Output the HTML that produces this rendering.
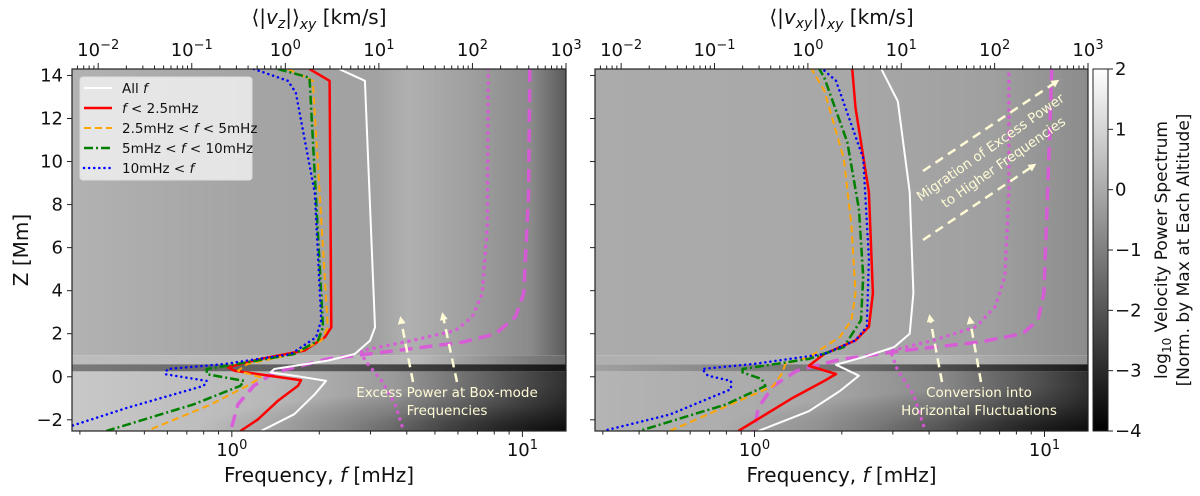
<!DOCTYPE html>
<html><head><meta charset="utf-8"><style>
html,body{margin:0;padding:0;background:#fff;}
svg{display:block;font-family:"DejaVu Sans","Liberation Sans",sans-serif;}
</style></head><body>
<svg id="fig" width="1200" height="496" viewBox="0 0 1200 496" xmlns="http://www.w3.org/2000/svg">
<defs>
<linearGradient id="lt" x1="0" x2="1" y1="0" y2="0">
<stop offset="0" stop-color="#b2b2b2"/><stop offset="0.35" stop-color="#a4a4a4"/><stop offset="0.62" stop-color="#a2a2a2"/><stop offset="0.68" stop-color="#b0b0b0"/><stop offset="0.8" stop-color="#a0a0a0"/><stop offset="0.93" stop-color="#8a8a8a"/><stop offset="1" stop-color="#5a5a5a"/></linearGradient>
<linearGradient id="lb" x1="0" x2="1" y1="0" y2="0">
<stop offset="0" stop-color="#c8c8c8"/><stop offset="0.4" stop-color="#b8b8b8"/><stop offset="0.65" stop-color="#9a9a9a"/><stop offset="0.85" stop-color="#606060"/><stop offset="1" stop-color="#303030"/></linearGradient>
<linearGradient id="lband" x1="0" x2="1" y1="0" y2="0">
<stop offset="0" stop-color="#7a7a7a"/><stop offset="0.5" stop-color="#5a5a5a"/><stop offset="1" stop-color="#151515"/></linearGradient>
<linearGradient id="lmid" x1="0" x2="1" y1="0" y2="0">
<stop offset="0" stop-color="#bcbcbc"/><stop offset="0.7" stop-color="#b8b8b8"/><stop offset="1" stop-color="#6a6a6a"/></linearGradient>
<linearGradient id="rt" x1="0" x2="1" y1="0" y2="0">
<stop offset="0" stop-color="#ababab"/><stop offset="0.5" stop-color="#a8a8a8"/><stop offset="0.8" stop-color="#a0a0a0"/><stop offset="1" stop-color="#8c8c8c"/></linearGradient>
<linearGradient id="rmid" x1="0" x2="1" y1="0" y2="0">
<stop offset="0" stop-color="#b0b0b0"/><stop offset="0.7" stop-color="#b4b4b4"/><stop offset="1" stop-color="#909090"/></linearGradient>
<linearGradient id="rb" x1="0" x2="1" y1="0" y2="0">
<stop offset="0" stop-color="#b4b4b4"/><stop offset="0.45" stop-color="#a8a8a8"/><stop offset="0.7" stop-color="#8a8a8a"/><stop offset="0.9" stop-color="#505050"/><stop offset="1" stop-color="#303030"/></linearGradient>
<linearGradient id="rband" x1="0" x2="1" y1="0" y2="0">
<stop offset="0" stop-color="#a0a0a0"/><stop offset="0.5" stop-color="#707070"/><stop offset="1" stop-color="#1a1a1a"/></linearGradient>
<radialGradient id="rfade" cx="1" cy="1" r="0.75" gradientUnits="objectBoundingBox">
<stop offset="0" stop-color="#000" stop-opacity="0.75"/><stop offset="0.6" stop-color="#000" stop-opacity="0.2"/><stop offset="1" stop-color="#000" stop-opacity="0"/></radialGradient>
<linearGradient id="cbar" x1="0" x2="0" y1="0" y2="1">
<stop offset="0" stop-color="#ffffff"/><stop offset="1" stop-color="#000000"/></linearGradient>
<marker id="ah" markerWidth="8" markerHeight="8" refX="4" refY="4" orient="auto" markerUnits="userSpaceOnUse" viewBox="0 0 8 8">
<path d="M0,0 L8,4 L0,8 z" fill="#fffbd6"/></marker>
</defs>
<g id="root"></g>
</svg>
<script>
// ---- data (frequency in mHz, altitude Z in Mm) ----
const leftAllF = [2.34,2.87,3.11,2.99,2.65,2.14,1.40,1.36,1.64,2.11,1.93,1.64,1.26];
const leftAllZ = [14.3,13.75,2.3,1.68,1.06,0.75,0.36,0.2,0.05,-0.19,-0.81,-1.74,-2.52];
const leftLowF = [1.85,2.17,2.20,2.09,1.78,1.26,0.97,1.02,1.73,1.69,1.44,1.23,1.07];
const leftLowZ = [14.3,13.75,2.3,1.84,1.22,0.83,0.44,0.28,-0.16,-0.42,-1.12,-1.98,-2.52];
const leftMidF = [1.56,1.90,2.14,2.03,1.64,1.13,1.05,1.26,1.13,0.85,0.51];
const leftMidZ = [14.3,13.75,2.3,1.68,1.06,0.59,0.28,-0.03,-0.42,-1.28,-2.52];
const leftHighF = [1.44,1.85,2.06,1.98,1.64,1.13,0.82,0.82,1.10,1.07,0.74,0.37];
const leftHighZ = [14.3,13.9,2.3,1.68,1.06,0.67,0.36,0.12,-0.19,-0.42,-1.28,-2.52];
const leftVHighF = [1.19,1.56,1.66,1.93,2.03,1.95,1.60,0.94,0.60,0.59,0.82,0.80,0.44,0.28];
const leftVHighZ = [14.3,13.75,13.2,8.54,2.62,1.84,1.06,0.59,0.36,0.12,-0.19,-0.42,-1.43,-2.29];
const leftBoxAF = [7.63,7.57,7.27,6.72,5.88,4.16,2.79,2.87,3.28,3.65,3.90];
const leftBoxAZ = [14.3,6.98,3.86,2.77,2.15,1.68,1.21,0.75,-0.19,-1.28,-2.52];
const leftBoxBF = [10.6,10.5,10.1,9.45,8.07,6.20,3.65,2.14,1.40,1.19,1.05,0.99];
const leftBoxBZ = [14.3,8.54,3.86,2.77,1.99,1.6,1.21,0.83,0.2,-0.42,-1.28,-2.52];

const rightAllF = [2.72,3.12,3.43,3.53,3.43,3.03,2.37,1.91,2.29,1.97,1.54,1.03];
const rightAllZ = [14.38,12.8,8.58,3.88,2.0,1.38,0.91,0.56,0.05,-0.66,-1.6,-2.52];
const rightLowF = [2.17,2.23,2.48,2.56,2.48,2.23,1.74,1.54,1.91,1.74,1.36,0.88];
const rightLowZ = [14.38,12.5,8.58,3.88,2.32,1.69,1.06,0.51,0.13,-0.19,-0.97,-2.52];
const rightMidF = [1.56,1.74,2.03,2.16,2.23,2.16,1.97,1.54,1.28,1.24,1.16,0.88,0.51];
const rightMidZ = [14.38,13.3,10.15,7.02,3.88,2.63,1.85,0.91,0.6,0.13,-0.43,-1.13,-2.52];
const rightHighF = [1.66,1.74,2.09,2.29,2.37,2.33,2.03,1.54,0.91,0.91,1.06,1.09,0.80,0.40];
const rightHighZ = [14.38,13.9,10.9,7.8,4.67,2.63,1.38,0.83,0.36,0.2,-0.11,-0.43,-1.28,-2.52];
const rightVHighF = [1.69,1.91,2.37,2.48,2.44,2.23,1.74,1.0,0.66,0.69,0.83,0.83,0.51,0.30];
const rightVHighZ = [14.38,13.75,10.15,5.45,2.32,1.69,1.06,0.6,0.36,0.05,-0.19,-0.58,-1.76,-2.52];
const rightBoxAF = [7.54,7.54,7.30,6.76,5.80,4.13,2.94,3.12,3.53,3.88];
const rightBoxAZ = [14.38,8.58,4.67,3.26,2.32,1.69,1.21,0.28,-0.82,-2.52];
const rightBoxBF = [10.6,10.4,9.95,9.5,8.4,5.97,3.22,1.97,1.40,1.16,1.03,1.0];
const rightBoxBZ = [14.38,10.9,3.88,2.63,2.0,1.61,1.21,0.8,0.28,-0.43,-1.44,-2.52];

const zTicks = [-2,0,2,4,6,8,10,12,14];
const fDecades = [0,1];
const vDecades = [-2,-1,0,1,2,3];
const cbTicks = [2,1,0,-1,-2,-3,-4];
const legendLabels = ["All <tspan font-style='italic'>f</tspan>","<tspan font-style='italic'>f</tspan> &lt; 2.5mHz","2.5mHz &lt; <tspan font-style='italic'>f</tspan> &lt; 5mHz","5mHz &lt; <tspan font-style='italic'>f</tspan> &lt; 10mHz","10mHz &lt; <tspan font-style='italic'>f</tspan>"];

// ---- geometry ----
const NS = "http://www.w3.org/2000/svg";
const root = document.getElementById('root');
const Y0 = 69, Y1 = 431, ZMIN = -2.52, ZMAX = 14.3;
const LF0 = -0.55, LF1 = 1.15, LV0 = -2.28, LV1 = 3.0;
function yS(z){ return Y1 - (z - ZMIN) / (ZMAX - ZMIN) * (Y1 - Y0); }
function mk(tag, attrs, parent){ const e = document.createElementNS(NS, tag); for (const k in attrs) e.setAttribute(k, attrs[k]); (parent||root).appendChild(e); return e; }

const styles = {
  all:{stroke:'#ffffff', w:2, dash:null},
  low:{stroke:'#ff0000', w:2.5, dash:null},
  mid:{stroke:'#ffa500', w:2, dash:'7,4'},
  high:{stroke:'#008000', w:2.5, dash:'9,3,2,3'},
  vhigh:{stroke:'#0000ff', w:2.5, dash:'0.1,5', cap:'round'},
  boxA:{stroke:'#dd55dd', w:3.5, dash:'0.1,7', cap:'round', op:0.9},
  boxB:{stroke:'#dd55dd', w:3.5, dash:'13,7', op:0.9}
};

function panel(px0, px1, side, series, bg){
  const xS = lf => px0 + (Math.log10(lf) - LF0) / (LF1 - LF0) * (px1 - px0);
  const xV = lv => px0 + (lv - LV0) / (LV1 - LV0) * (px1 - px0);
  const g = mk('g', {});
  
  
  const cp = mk('clipPath', {id: 'clip-' + side}, g);
  mk('rect', {x:px0, y:Y0, width:px1-px0, height:Y1-Y0}, cp);
  const hm = mk('g', {'clip-path':'url(#clip-' + side + ')'}, g);
  
  
  const W = px1 - px0;
  mk('rect', {x:px0, y:Y0, width:W, height:yS(1.0)-Y0, fill:'url(#' + bg + 't)'}, hm);
  mk('rect', {x:px0, y:yS(1.0), width:W, height:yS(0.58)-yS(1.0), fill: 'url(#' + (side==='left' ? 'lmid' : 'rmid') + ')'}, hm);
  mk('rect', {x:px0, y:yS(0.58), width:W, height:yS(0.25)-yS(0.58), fill:'url(#' + bg + 'band)'}, hm);
  mk('rect', {x:px0, y:yS(0.25), width:W, height:Y1-yS(0.25), fill:'url(#' + bg + 'b)'}, hm);
  mk('rect', {x:px0, y:yS(0.25), width:W, height:Y1-yS(0.25), fill:'url(#rfade)'}, hm);
  // series
  const lines = mk('g', {'clip-path':'url(#clip-' + side + ')'}, g);
  series.forEach(s => {
    const st = styles[s.key];
    let d = '';
    s.f.forEach((f, i) => { d += (i ? 'L' : 'M') + xS(f).toFixed(1) + ',' + yS(s.z[i]).toFixed(1); });
    const p = mk('path', {d:d, fill:'none', stroke:st.stroke, 'stroke-width':st.w, 'stroke-linejoin':'round'}, lines);
    if (st.dash) p.setAttribute('stroke-dasharray', st.dash);
    if (st.cap) p.setAttribute('stroke-linecap', st.cap);
    if (st.op) p.setAttribute('stroke-opacity', st.op);
    
    
  });
  // frame
  const fr = mk('rect', {x:px0, y:Y0, width:W, height:Y1-Y0, fill:'none', stroke:'#222', 'stroke-width':1.2}, g);
  
  
  // bottom axis ticks
  const ax = mk('g', {stroke:'#222', 'stroke-width':1}, g);
  for (let dcd = -1; dcd <= 1; dcd++) for (let m = 1; m <= 9; m++) {
    const f = m * Math.pow(10, dcd); const x = xS(f);
    if (x < px0 - 0.5 || x > px1 + 0.5) continue;
    const L = m === 1 ? 6 : 3.5;
    mk('line', {x1:x, x2:x, y1:Y1, y2:Y1+L}, ax);
  }
  fDecades.forEach(dc => {
    const t = mk('text', {x:xS(Math.pow(10, dc)), y:456, 'font-size':18, 'text-anchor':'middle', fill:'#111'}, g);
    t.innerHTML = '10<tspan dy="-7" font-size="13">' + dc + '</tspan>';
    
    
  });
  // top axis
  for (let dcd = -3; dcd <= 3; dcd++) for (let m = 1; m <= 9; m++) {
    const lv = dcd + Math.log10(m); const x = xV(lv);
    if (x < px0 - 0.5 || x > px1 + 0.5) continue;
    const L = m === 1 ? 6 : 3.5;
    mk('line', {x1:x, x2:x, y1:Y0, y2:Y0-L}, ax);
  }
  vDecades.forEach(dc => {
    const t = mk('text', {x:xV(dc), y:56, 'font-size':18, 'text-anchor':'middle', fill:'#111'}, g);
    t.innerHTML = '10<tspan dy="-7" font-size="13">' + (dc < 0 ? '\u2212' + (-dc) : dc) + '</tspan>';
    
    
  });
  // y ticks
  zTicks.forEach(z => {
    mk('line', {x1:px0-5, x2:px0, y1:yS(z), y2:yS(z)}, ax);
    if (side === 'left') {
      const t = mk('text', {x:px0-9, y:yS(z)+6, 'font-size':18, 'text-anchor':'end', fill:'#111'}, g);
      t.textContent = z < 0 ? '\u2212' + (-z) : String(z);
      
      
    }
  });
  // x title
  const xt = mk('text', {x:(px0+px1)/2, y:482, 'font-size':20, 'text-anchor':'middle', fill:'#111'}, g);
  xt.innerHTML = 'Frequency, <tspan font-style="italic">f</tspan> [mHz]';
  
  
  const tt = mk('text', {x:(px0+px1)/2, y:24, 'font-size':20, 'text-anchor':'middle', fill:'#111'}, g);
  tt.innerHTML = side === 'left'
    ? '\u27E8|<tspan font-style="italic">v</tspan><tspan font-style="italic" font-size="14" dy="4">z</tspan><tspan dy="-4">|\u27E9</tspan><tspan font-style="italic" font-size="14" dy="5">xy</tspan><tspan dy="-5"> [km/s]</tspan>'
    : '\u27E8|<tspan font-style="italic">v</tspan><tspan font-style="italic" font-size="14" dy="4">xy</tspan><tspan dy="-4">|\u27E9</tspan><tspan font-style="italic" font-size="14" dy="5">xy</tspan><tspan dy="-5"> [km/s]</tspan>';
  
  
  return g;
}

panel(72, 566, 'left', [
  {key:'boxA', f:leftBoxAF, z:leftBoxAZ},{key:'boxB', f:leftBoxBF, z:leftBoxBZ},
  {key:'all', f:leftAllF, z:leftAllZ},{key:'low', f:leftLowF, z:leftLowZ},
  {key:'mid', f:leftMidF, z:leftMidZ},{key:'high', f:leftHighF, z:leftHighZ},
  {key:'vhigh', f:leftVHighF, z:leftVHighZ}], 'l');
panel(595, 1088, 'right', [
  {key:'boxA', f:rightBoxAF, z:rightBoxAZ},{key:'boxB', f:rightBoxBF, z:rightBoxBZ},
  {key:'all', f:rightAllF, z:rightAllZ},{key:'low', f:rightLowF, z:rightLowZ},
  {key:'mid', f:rightMidF, z:rightMidZ},{key:'high', f:rightHighF, z:rightHighZ},
  {key:'vhigh', f:rightVHighF, z:rightVHighZ}], 'r');

// y title
const yt = mk('text', {x:0, y:0, 'font-size':20, 'text-anchor':'middle', fill:'#111', transform:'translate(28,250) rotate(-90)'});
yt.textContent = 'Z [Mm]';



// legend
const lg = mk('g', {});


mk('rect', {x:80, y:77, width:172, height:103, rx:3, fill:'#f0f0f0', 'fill-opacity':0.85, stroke:'#ddd'}, lg);
['all','low','mid','high','vhigh'].forEach((k, i) => {
  const y = 88 + i * 20; const st = styles[k];
  const ln = mk('line', {x1:84, x2:112, y1:y, y2:y, stroke:st.stroke, 'stroke-width':st.w}, lg);
  if (st.dash) ln.setAttribute('stroke-dasharray', st.dash);
  if (st.cap) ln.setAttribute('stroke-linecap', st.cap);
  
  
  const t = mk('text', {x:122, y:y+5, 'font-size':13.5, fill:'#111'}, lg);
  t.innerHTML = legendLabels[i];
  
  
});

// annotations
const an = mk('g', {});


function arrow(x1,y1,x2,y2,name){
  const a = mk('line', {x1:x1,y1:y1,x2:x2,y2:y2, stroke:'#fffbd6', 'stroke-width':2.5, 'stroke-dasharray':'9,6', 'marker-end':'url(#ah)'}, an);
  
  
}
arrow(413,382,401,320,'box-mode-arrow-1');
arrow(457,382,443,316,'box-mode-arrow-2');
arrow(942,382,930,318,'conversion-arrow-1');
arrow(981,382,970,320,'conversion-arrow-2');
arrow(923,171,1056,82,'migration-arrow-1');
arrow(923,240,1033,166,'migration-arrow-2');
function txt(x,y,s,name,extra){
  const t = mk('text', Object.assign({x:x,y:y,'font-size':13.5,'text-anchor':'middle',fill:'#fffbd6'}, extra||{}), an);
  t.textContent = s;
  
  
}
txt(447,397,'Excess Power at Box-mode','box-mode-text-1');
txt(447,415,'Frequencies','box-mode-text-2');
txt(979,397,'Conversion into','conversion-text-1');
txt(979,415,'Horizontal Fluctuations','conversion-text-2');
txt(0,0,'Migration of Excess Power','migration-text-1',{transform:'translate(993,151) rotate(-35)'});
txt(0,0,'to Higher Frequencies','migration-text-2',{transform:'translate(1006,166) rotate(-35)'});

// colorbar
const cb = mk('g', {});


mk('rect', {x:1093, y:Y0, width:15, height:Y1-Y0, fill:'url(#cbar)', stroke:'#222', 'stroke-width':1}, cb);
cbTicks.forEach(v => {
  const y = Y0 + (2 - v) / 6 * (Y1 - Y0);
  mk('line', {x1:1108, x2:1113, y1:y, y2:y, stroke:'#222'}, cb);
  const t = mk('text', {x:1115, y:y+6, 'font-size':18, fill:'#111'}, cb);
  t.textContent = v < 0 ? '\u2212' + (-v) : String(v);
  
  
});
const c1 = mk('text', {x:0, y:0, 'font-size':17, 'text-anchor':'middle', fill:'#111', transform:'translate(1167,250) rotate(-90)'}, cb);
c1.innerHTML = 'log<tspan font-size="12" dy="4">10</tspan><tspan dy="-4"> Velocity Power Spectrum</tspan>';


const c2 = mk('text', {x:0, y:0, 'font-size':17, 'text-anchor':'middle', fill:'#111', transform:'translate(1189,250) rotate(-90)'}, cb);
c2.textContent = '[Norm. by Max at Each Altitude]';


</script>
</body></html>
